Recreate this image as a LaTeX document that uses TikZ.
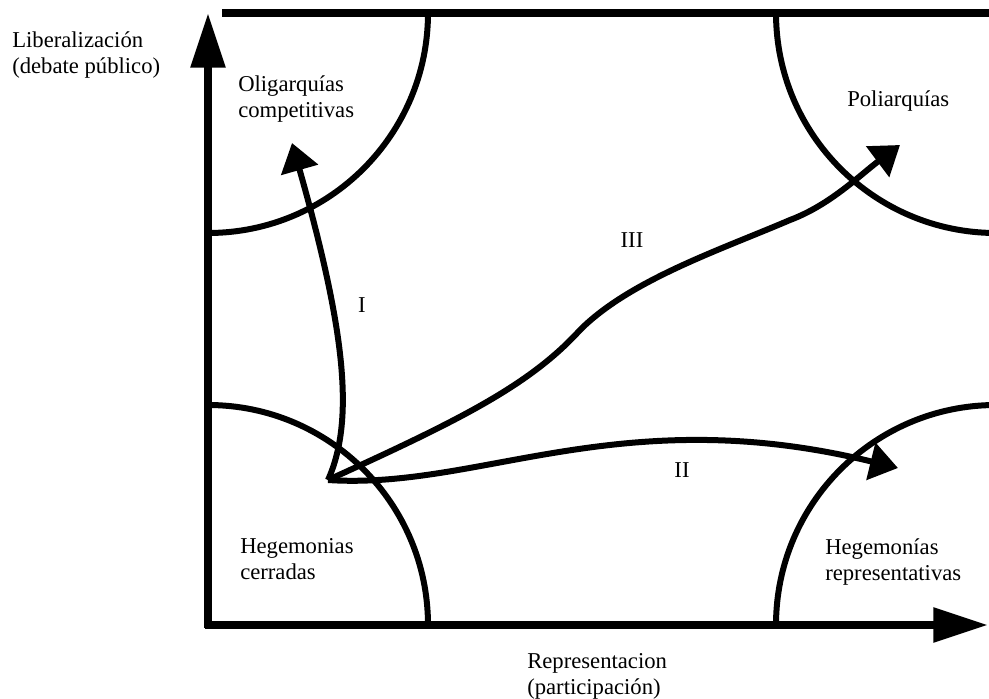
\documentclass[tikz,border=0pt]{standalone}
\usepackage{fontspec}
\setmainfont{Liberation Serif}
\usetikzlibrary{arrows.meta}

\tikzset{
  axis/.style={line width=6pt, -{Triangle[length=41pt,width=25pt]}},
  zone/.style={line width=4.5pt},
  route/.style={line width=4.5pt, -{Triangle[length=21pt,width=28pt]}},
  lbl/.style={font=\fontsize{17}{20}\selectfont, align=left, inner sep=0pt, anchor=north west},
  numeral/.style={font=\fontsize{17}{20}\selectfont, inner sep=0pt},
}

\begin{document}
\begin{tikzpicture}[x=0.75pt, y=-0.75pt]
\useasboundingbox (0,0) rectangle (989,699);

    % Corners of the plane
    \coordinate (bl) at (208,625);
    \coordinate (tl) at (208,13);
    \coordinate (tr) at (996,13);
    \coordinate (br) at (996,625);

    % Regimes (quarter circles in the corners)
    \begin{scope}
      \clip (208,13) rectangle (989,625);
      \foreach \c in {bl,tl,tr,br}
        \draw[zone] (\c) circle[radius=220];
    \end{scope}

    % Axes and upper border
    \draw[axis] (208,628) -- (tl);
    \draw[axis] (205,625) -- (988,625);
    \draw[line width=6pt] (222,13) -- (989,13);

    % Routes from closed hegemony
    \coordinate (O) at (328,480);
    \draw[route] (O) .. controls (355,420) and (345,330) .. (292,143);
    \draw[route] (O) .. controls (460,420) and (530,385) .. (580,330)
        .. controls (630,280) and (720,250) .. (790,220)
        .. controls (830,205) and (860,175) .. (900,145);
    \draw[route] (O) .. controls (480,490) and (620,400) .. (898,468);

    % Route labels
    \node[numeral] (r1) at (362,305) {I};
    \node[numeral] (r2) at (682,470) {II};
    \node[numeral] (r3) at (632,240) {III};

    % Regime labels
    \node[lbl] (olig) at (238,75) {Oligarquías\\competitivas};
    \node[lbl] (poli) at (847,90) {Poliarquías};
    \node[lbl] (hegc) at (240,538) {Hegemonias\\cerradas};
    \node[lbl] (hegr) at (825,538) {Hegemonías\\representativas};

    % Axis labels
    \node[lbl] (ylab) at (12,31) {Liberalización\\(debate público)};
    \node[lbl] (xlab) at (527,653) {Representacion\\(participación)};

\end{tikzpicture}
\end{document}
